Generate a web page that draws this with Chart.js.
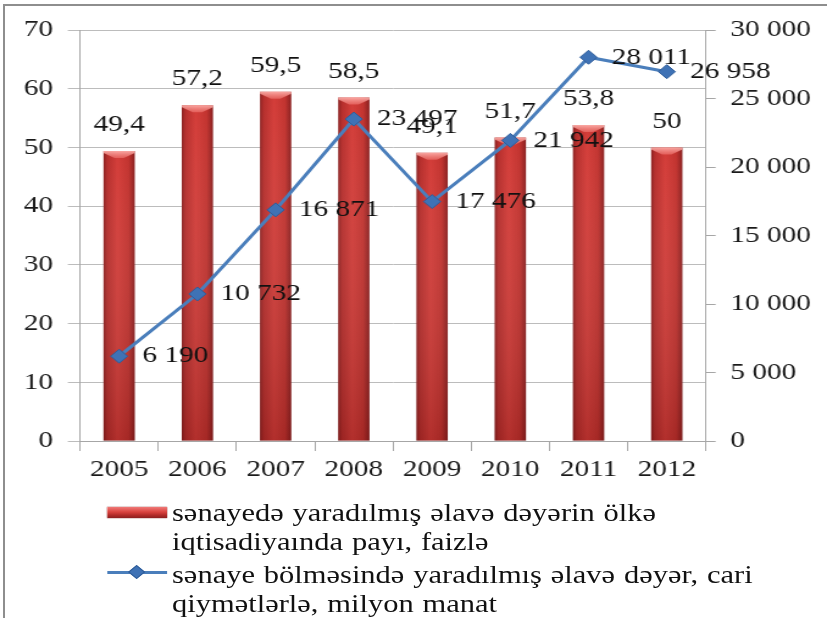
<!DOCTYPE html>
<html>
<head>
<meta charset="utf-8">
<script src="https://cdn.jsdelivr.net/npm/chart.js@4.4.1/dist/chart.umd.min.js"></script>
<style>
  html, body { margin: 0; padding: 0; background: #fff; }
  body { width: 827px; height: 618px; position: relative; overflow: hidden; }
  #frame { position: absolute; left: 3px; top: 4px; width: 830px; height: 620px;
           border-left: 2px solid #8e8e8e; border-top: 2px solid #8e8e8e; }
  #stretch { position: absolute; left: 0; top: 0; width: 678px; height: 618px;
             transform: scaleX(1.2198); transform-origin: 0 0; }
  #chartBox { position: absolute; left: 0; top: 0; width: 678px; height: 618px; }
  .lg-text { position: absolute; left: 141px; font-family: 'Liberation Serif', 'Times New Roman', serif;
             font-size: 25px; line-height: 29px; color: #111; white-space: nowrap; word-spacing: 1px; }
  #sw1 { position: absolute; left: 88px; top: 507px; width: 49px; height: 11px;
         background: linear-gradient(to bottom, #f07a78 0%, #d9423e 45%, #b02a28 75%, #8c1f1f 100%);
         box-shadow: 0 0 1px #7a1a1a; }
  #sw2line { position: absolute; left: 88px; top: 571px; width: 49px; height: 3px; background: #4a7ebb; }
  #sw2dia { position: absolute; left: 107px; top: 567px; width: 10px; height: 10px; background: #3f72b5;
            transform: rotate(45deg); border: 1px solid #2f5d9a; box-sizing: border-box; }
</style>
</head>
<body>
<div id="frame"></div>
<div id="stretch">
  <div id="chartBox"><canvas id="c"></canvas></div>
  <div id="sw1"></div>
  <div class="lg-text" id="lg1" style="top:498px"></div>
  <div id="sw2line"></div>
  <div id="sw2dia"></div>
  <div class="lg-text" id="lg2" style="top:560px"></div>
</div>
<script>
// ---- data ----
const years = ['2005', '2006', '2007', '2008', '2009', '2010', '2011', '2012'];
const sharePercent = [49.4, 57.2, 59.5, 58.5, 49.1, 51.7, 53.8, 50];
const valueAddedMln = [6190, 10732, 16871, 23497, 17476, 21942, 28011, 26958];
const leftAxisMax = 70;
const leftAxisStep = 10;
const rightAxisMax = 30000;
const rightAxisStep = 5000;
const legendBar = ['sənayedə yaradılmış əlavə dəyərin ölkə', 'iqtisadiyaında payı, faizlə'];
const legendLine = ['sənaye bölməsində yaradılmış əlavə dəyər, cari', 'qiymətlərlə, milyon manat'];

// ---- helpers ----
const FONT = "'Liberation Serif', 'Times New Roman', serif";
const fmtThousands = v => String(v).replace(/\B(?=(\d{3})+(?!\d))/g, ' ');
const fmtDecimal = v => String(v).replace('.', ',');

document.getElementById('lg1').innerHTML = legendBar.join('<br>');
document.getElementById('lg2').innerHTML = legendLine.join('<br>');

function barGradient(ctx) {
  const chart = ctx.chart;
  const xs = chart.scales.x;
  if (!chart.chartArea || !xs) return '#c83532';
  const cx = xs.getPixelForValue(ctx.dataIndex);
  const w = (xs.width / years.length) * 0.4;
  const g = chart.ctx.createLinearGradient(cx - w / 2, 0, cx + w / 2, 0);
  g.addColorStop(0, '#8a2020');
  g.addColorStop(0.12, '#b52e2c');
  g.addColorStop(0.45, '#d43d39');
  g.addColorStop(0.8, '#c2332f');
  g.addColorStop(1, '#8a2020');
  return g;
}

const decoPlugin = {
  id: 'deco',
  afterDatasetDraw(chart, args) {
    if (args.meta.type !== 'bar') return;
    const c = chart.ctx;
    const bottom = chart.chartArea.bottom;
    args.meta.data.forEach(el => {
      const l = el.x - el.width / 2, r = el.x + el.width / 2, t = el.y;
      const vg = c.createLinearGradient(0, t, 0, bottom);
      vg.addColorStop(0, 'rgba(255,255,255,0)');
      vg.addColorStop(1, 'rgba(60,0,0,0.22)');
      c.save();
      c.fillStyle = vg;
      c.fillRect(l, t, r - l, bottom - t);
      const cg = c.createLinearGradient(0, t, 0, t + 9);
      cg.addColorStop(0, 'rgba(255,180,175,0.9)');
      cg.addColorStop(1, 'rgba(235,100,95,0.55)');
      c.beginPath();
      c.moveTo(l, t);
      c.lineTo(r, t);
      c.lineTo(r, t + 2);
      c.lineTo(el.x + el.width * 0.15, t + 7);
      c.lineTo(el.x - el.width * 0.15, t + 7);
      c.lineTo(l, t + 2);
      c.closePath();
      c.fillStyle = cg;
      c.fill();
      c.restore();
    });
  },
  afterDatasetsDraw(chart) {
    const c = chart.ctx;
    c.save();
    c.font = '24px ' + FONT;
    c.fillStyle = '#111';
    c.textBaseline = 'middle';
    const barMeta = chart.getDatasetMeta(0);
    c.textAlign = 'center';
    barMeta.data.forEach((el, i) => {
      c.fillText(fmtDecimal(sharePercent[i]), el.x, el.y - 26);
    });
    const lineMeta = chart.getDatasetMeta(1);
    c.textAlign = 'left';
    lineMeta.data.forEach((el, i) => {
      c.fillText(fmtThousands(valueAddedMln[i]), el.x + 19, el.y);
    });
    c.restore();
  }
};

new Chart(document.getElementById('c'), {
  data: {
    labels: years,
    datasets: [
      {
        type: 'bar',
        label: legendBar.join(' '),
        data: sharePercent,
        yAxisID: 'y',
        backgroundColor: barGradient,
        borderWidth: 0,
        categoryPercentage: 1,
        barPercentage: 0.4,
        order: 1
      },
      {
        type: 'line',
        label: legendLine.join(' '),
        data: valueAddedMln,
        yAxisID: 'y1',
        borderColor: '#4a7ebb',
        borderWidth: 3,
        pointStyle: 'rectRot',
        pointRadius: 7,
        pointBackgroundColor: '#3f72b5',
        pointBorderColor: '#2f5d9a',
        pointBorderWidth: 1,
        tension: 0,
        order: 0
      }
    ]
  },
  options: {
    responsive: true,
    maintainAspectRatio: false,
    animation: false,
    events: [],
    layout: { padding: { left: 0, right: 0, top: 30, bottom: 137 } },
    plugins: { legend: { display: false }, tooltip: { enabled: false } },
    scales: {
      x: {
        offset: true,
        grid: { display: true, drawOnChartArea: false, drawTicks: true, tickLength: 10, color: '#a6a6a6', offset: true },
        border: { display: true, color: '#a6a6a6', width: 1 },
        ticks: { font: { family: FONT, size: 24 }, color: '#1a1a1a', padding: 4, maxRotation: 0 },
        afterFit: s => { s.height = 40; }
      },
      y: {
        position: 'left',
        min: 0, max: leftAxisMax,
        ticks: { stepSize: leftAxisStep, font: { family: FONT, size: 24 }, color: '#1a1a1a', padding: 12 },
        grid: { color: '#bcbcbc', tickLength: 10, drawTicks: true },
        border: { display: true, color: '#a6a6a6', width: 1 },
        afterFit: s => { s.width = 65.6; }
      },
      y1: {
        position: 'right',
        min: 0, max: rightAxisMax,
        ticks: { stepSize: rightAxisStep, font: { family: FONT, size: 24 }, color: '#1a1a1a', padding: 12,
                 callback: v => fmtThousands(v) },
        grid: { drawOnChartArea: false, tickLength: 8, color: '#a6a6a6' },
        border: { display: true, color: '#a6a6a6', width: 1 },
        afterFit: s => { s.width = 99.3; }
      }
    }
  },
  plugins: [decoPlugin]
});
</script>
</body>
</html>
